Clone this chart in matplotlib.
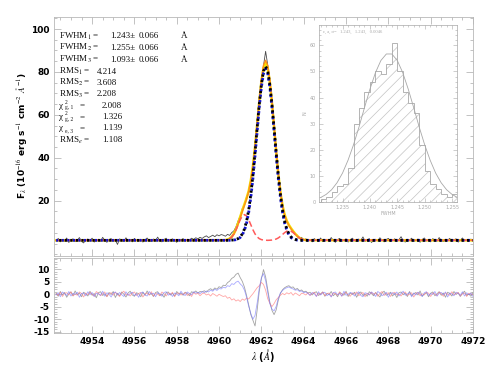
import matplotlib
matplotlib.use("Agg")
import matplotlib.pyplot as plt
import numpy as np
from matplotlib.ticker import MultipleLocator, FormatStrFormatter

# --- spectrum sampling (0.1 A steps) ---
WL_START = 4952.3
WL_END = 4972.0
WL_STEP = 0.1

FLUX_OBS = [
    1.2, 2.4, 0.8, 1.9, 1.1, 2.6, 0.5, 1.7, 2.2, 0.9, 1.5, 2.8, 1.0, 0.3, 1.8, 2.1, 1.3, 2.5, 0.7, 1.6,
    2.0, 1.1, 2.9, 1.4, 0.6, 1.9, 2.3, 1.0, 1.6, -0.4, 2.2, 1.5, 0.9, 2.7, 1.2, 1.8, 0.8, 2.4, 1.4, 1.1,
    2.0, 0.7, 1.7, 2.6, 1.3, 0.9, 2.1, 1.5, 3.0, 1.2, 0.8, 1.9, 2.5, 1.0, 1.6, 2.2, 1.4, 0.6, 2.0, 1.7,
    2.3, 1.1,
    2.0, 1.6, 2.5, 1.9, 2.7, 2.2, 2.9, 2.4, 3.1, 3.6, 2.8, 3.3, 3.9, 3.2, 4.1, 3.6, 4.2,
    3.9, 3.4, 4.3, 3.8, 5.1, 5.9, 7.8, 10.6, 12.9, 16.4, 18.1, 21.9, 24.0, 29.9, 35.2, 44.3, 55.9, 66.8,
    76.1, 83.0, 89.6, 83.2, 75.8, 66.1, 54.9, 42.2, 32.9, 24.6, 17.1, 13.9, 10.2, 8.9, 6.8, 6.1, 4.2,
    3.9, 2.4, 2.9, 1.6, 2.2, 1.3,
    1.9, 0.8, 2.3, 1.5, 1.1, 2.6, 0.9, 1.7, 2.0, 1.2, 2.8, 1.4, 0.6, 1.9, 2.4, 1.0, 1.6, 2.2, 0.7, 1.8,
    2.5, 1.3, 0.9, 2.1, 1.5, 3.1, 1.0, 1.7, 2.3, 0.5, 1.4, 2.0, 1.2, 2.7, 1.6, 0.8, 1.9, 2.4, 1.1, 1.5,
    2.2, 0.9, 1.8, 3.2, 1.3, 0.7, 2.0, 1.6, 2.5, 1.0, 1.4, 2.1, 0.6, 1.9, 2.6, 1.2, 1.7, 0.8, 2.3, 1.5,
    1.1, 2.8, 1.4, 0.9, 2.0, 1.6, 2.4, 1.0, 1.8, 2.2, 0.7, 1.5, 2.6, 1.3, 1.9, 1.1, 2.1, 1.4,
]

RES_BLACK = [
    0.4, -0.8, 1.1, -0.3, 0.7, -1.2, 0.2, 0.9, -0.6, 1.3,
    -0.2, 0.5, -1.0, 0.8, 0.1, -0.7, 1.2, -0.4, 0.3, -1.4,
    0.6, 1.0, -0.5, 0.2, -0.9, 0.7, -0.1, 1.1, -1.3, 0.4,
    -0.6, 0.9, 0.0, -1.1, 0.5, 1.2, -0.3, -0.8, 0.6, 0.2,
    -1.0, 0.8, -0.4, 1.3, -0.2, 0.3, -0.9, 0.7, 1.0, -0.5,
    0.1, -1.2, 0.6, 0.9, -0.3, 0.4, -0.7, 1.1, 0.0, 0.5,
    -0.4, 0.8, 0.3, -0.6, 1.0, 0.6, 1.3, 0.4, 1.1, 0.9,
    1.4, 0.8, 1.7, 2.2, 1.6, 2.5, 2.0, 3.0, 2.6, 3.6,
    3.4, 4.6, 5.2, 6.3, 6.8, 7.9, 8.4, 6.6, 5.1, 2.8,
    -0.5, -4.2, -8.1, -10.4, -12.6, -6.3, 1.2, 6.1, 9.8, 6.9,
    1.8, -3.2, -6.4, -8.1, -6.2, -2.3, 0.4, 1.8, 2.6, 3.1,
    3.4, 2.7, 2.9, 1.9, 2.3, 1.4, 1.7, 0.9, 1.2, 0.5,
    0.8, -0.3, 0.6, 1.0, -0.5, 0.2, 0.9, -0.8, 0.4, -0.2,
    1.1, -0.6, 0.3, -1.0, 0.7, 0.2, -0.4, 1.2, -0.9, 0.5,
    -0.1, 0.8, -1.2, 0.4, 0.9, -0.5, 0.1, -0.8, 1.0, 0.3,
    -0.6, 0.7, -0.2, -1.1, 0.5, 1.2, -0.4, 0.0, 0.8, -0.7,
    0.3, -1.3, 0.6, 0.9, -0.2, 0.4, -0.9, 1.1, -0.5, 0.2,
    0.7, -0.3, 1.3, -0.8, 0.1, 0.6, -1.0, 0.4, 0.9, -0.6,
    0.2, 1.0, -0.4, 0.5, -1.2, 0.8, 0.3, -0.7, 1.1, -0.1,
    0.6, -0.9, 0.4, 1.2, -0.5, 0.1, -0.8, 0.7,
]

RES_BLUE = [
    -0.3, 0.6, -1.0, 0.9, 0.2, -0.5, 1.1, -0.7, 0.4, -0.1,
    0.8, -1.2, 0.3, 0.5, -0.6, 1.0, -0.2, 0.7, -0.9, 0.4,
    0.1, -0.4, 1.2, -0.8, 0.6, 0.0, -1.1, 0.5, 0.9, -0.3,
    0.7, -0.2, -0.9, 1.0, -0.5, 0.3, 0.8, -0.6, 0.2, -1.2,
    0.5, 0.9, -0.3, -0.7, 1.1, 0.0, 0.4, -1.0, 0.6, 0.2,
    -0.8, 0.7, 1.0, -0.4, 0.3, -0.9, 0.5, 0.1, -0.6, 1.2,
    0.0, -0.5, 0.9, 0.3, -0.2, 1.0, 0.4, 0.8, 0.2, 1.1,
    0.6, 1.3, 0.9, 1.6, 1.2, 2.0, 1.5, 2.3, 2.1, 2.8,
    2.5, 3.4, 3.1, 4.2, 3.9, 4.8, 5.2, 4.1, 3.3, 1.6,
    -1.2, -4.8, -7.6, -9.9, -8.4, -3.5, 2.4, 6.6, 8.2, 5.4,
    0.6, -3.8, -5.9, -6.6, -4.8, -1.6, 0.5, 1.5, 2.2, 2.6,
    2.9, 2.4, 2.1, 1.6, 1.8, 1.1, 1.3, 0.6, 0.9, 0.3,
    -0.4, 0.7, 0.2, -0.9, 1.0, -0.3, 0.5, 0.8, -0.6, 0.1,
    -1.1, 0.6, 0.9, -0.2, 0.3, -0.8, 1.2, -0.4, 0.0, 0.7,
    0.4, -0.7, 0.2, 1.0, -0.5, -1.0, 0.6, 0.3, -0.3, 0.9,
    0.2, -0.9, 1.1, 0.5, -0.6, 0.0, 0.8, -1.2, 0.4, 0.6,
    -0.2, 0.9, -0.7, 0.3, 1.2, -0.4, 0.1, 0.7, -1.0, 0.5,
    -0.3, 0.8, 0.2, -0.9, 0.6, 1.0, -0.5, 0.3, -0.1, 1.1,
    -0.8, 0.4, 0.7, -0.2, 0.9, -1.1, 0.5, 0.1, -0.6, 0.8,
    0.3, -0.4, 1.0, -0.7, 0.6, -0.2, 0.4, -0.9,
]

RES_RED = [
    0.2, -0.5, 0.8, -0.9, 0.4, 0.6, -0.3, 1.0, -0.7, 0.1,
    -0.4, 0.9, 0.3, -1.1, 0.5, -0.2, 0.7, 0.0, -0.8, 1.1,
    0.4, -0.6, 0.2, 0.9, -1.0, 0.3, 0.6, -0.4, 0.8, -0.1,
    -0.9, 0.5, 1.2, -0.3, 0.1, -0.7, 0.4, 0.9, -0.5, 0.3,
    0.7, -1.1, 0.2, 0.5, -0.4, 1.0, -0.8, 0.3, 0.0, -0.6,
    0.9, 0.2, -0.7, 0.6, -0.1, 0.8, -1.0, 0.4, 0.5, -0.3,
    0.1, 0.7, -0.5, 0.3, -0.9, 0.6, 0.0, 0.4, -0.6, 0.2,
    0.5, -0.3, 0.1, -0.7, 0.3, -0.2, -0.8, 0.0, -0.5, -0.9,
    -0.6, -1.6, -1.2, -2.3, -1.8, -2.7, -2.2, -2.9, -1.9, -2.4,
    -1.5, -1.9, -0.8, 0.2, 1.4, 2.6, 3.4, 4.7, 3.9, 1.6,
    -1.8, -3.6, -4.9, -3.7, -2.2, -1.3, -0.4, 0.3, -0.2, 0.6,
    0.1, 0.7, -0.4, 0.5, 0.0, -0.6, 0.4, 0.2, -0.3, 0.6,
    -0.5, 0.3, 0.8, -0.8, 0.4, -0.1, 0.9, -0.6, 0.2, 0.5,
    -0.9, 0.6, 0.1, -0.4, 1.0, -0.7, 0.3, 0.7, -0.2, -0.8,
    0.5, 0.0, 0.9, -0.6, 0.2, 0.7, -1.0, 0.4, -0.3, 0.8,
    -0.1, 0.6, -0.8, 0.3, 1.1, -0.5, 0.2, 0.6, -0.9, 0.4,
    0.8, -0.2, 0.1, -0.7, 0.5, 0.9, -0.4, 0.0, 0.6, -1.1,
    0.3, 0.7, -0.6, 0.2, -0.3, 0.8, 0.4, -0.9, 0.5, 0.1,
    -0.5, 0.9, 0.2, -0.8, 0.6, 0.0, -0.4, 1.0, -0.2, 0.3,
    0.7, -0.6, 0.1, 0.5, -0.9, 0.4, 0.2, -0.3,
]

# --- fitted models, line window 4960.2-4964.2 (0.1 A steps), flat continuum outside ---
CONTINUUM = 1.5
MODEL_START = 4960.2
FIT_YELLOW = [
    1.55, 1.63, 1.84, 2.31, 3.18, 4.63, 6.75, 9.46, 12.5, 15.52, 18.35, 21.15, 24.51, 29.38,
    36.13, 45.09, 55.52, 66.19, 75.44, 81.83, 84.05, 81.7, 75.15, 65.53, 54.2, 42.71, 32.32,
    23.95, 17.63, 13.4, 10.61, 8.67, 7.15, 5.78, 4.55, 3.49, 2.68, 2.13, 1.8, 1.63, 1.55,
]
FIT_ORANGE = [
    1.55, 1.6, 1.8, 2.2, 3.0, 4.4, 6.4, 9.0, 12.0, 15.0, 17.9, 20.8, 24.3, 29.4, 36.4, 45.6,
    56.3, 67.2, 76.6, 83.1, 85.4, 83.0, 76.4, 66.6, 55.1, 43.4, 32.8, 24.2, 17.7, 13.3, 10.4,
    8.4, 6.9, 5.6, 4.4, 3.4, 2.6, 2.1, 1.8, 1.6, 1.55,
]
FIT_BLUE = [
    1.5, 1.5, 1.5, 1.52, 1.56, 1.64, 1.81, 2.16, 2.85, 4.09, 6.2, 9.56, 14.5, 21.5, 30.3, 40.9,
    52.3, 63.5, 72.9, 79.3, 81.5, 79.3, 72.9, 63.5, 52.3, 40.9, 30.3, 21.5, 14.5, 9.56, 6.2,
    4.09, 2.85, 2.16, 1.81, 1.64, 1.56, 1.52, 1.5, 1.5, 1.5,
]
FIT_BLACK = [
    1.5, 1.5, 1.5, 1.52, 1.6, 1.7, 1.9, 2.3, 3.1, 4.5, 6.8, 10.4, 15.6, 22.8, 31.8, 42.4,
    53.8, 64.8, 74.0, 80.4, 82.6, 80.4, 74.0, 64.8, 53.8, 42.4, 31.8, 22.8, 15.6, 10.4, 6.8,
    4.5, 3.1, 2.3, 1.9, 1.7, 1.6, 1.52, 1.5, 1.5, 1.5,
]
COMP_RED = [
    1.55, 1.63, 1.84, 2.29, 3.12, 4.49, 6.43, 8.78, 11.11, 12.85, 13.5, 12.85, 11.11, 8.78,
    6.43, 4.49, 3.12, 2.29, 1.84, 1.63, 1.55, 1.5, 1.55, 1.63, 1.8, 2.11, 2.62, 3.35, 4.23,
    5.1, 5.76, 6.0, 5.76, 5.1, 4.23, 3.35, 2.62, 2.11, 1.8, 1.63, 1.55,
]

FWHM_LABELS = [r"FWHM$_1$ =", r"FWHM$_2$ =", r"FWHM$_3$ ="]
FWHM_VALUES = ["1.243", "1.255", "1.093"]
FWHM_ERR = "0.066"
RMS_LABELS = [r"RMS$_1$ =", r"RMS$_2$ =", r"RMS$_3$ ="]
RMS_VALUES = ["4.214", "3.608", "2.208"]
CHI_SUPS = ["2", "2", ""]
CHI_SUBS = ["g, 1", "g, 2", "e, 3"]
CHI_VALUES = ["2.008", "1.326", "1.139"]
RMSE_LABEL = r"RMS$_e$ ="
RMSE_VALUE = "1.108"

# --- inset: FWHM distribution ---
BIN_EDGES = [
    1.231, 1.232, 1.233, 1.234, 1.235, 1.236, 1.237, 1.238, 1.239, 1.240, 1.241, 1.242, 1.243,
    1.244, 1.245, 1.246, 1.247, 1.248, 1.249, 1.250, 1.251, 1.252, 1.253, 1.254, 1.255, 1.256,
]
HIST_COUNTS = [1, 2, 4, 6, 7, 13, 30, 36, 42, 46, 50, 49, 53, 61, 50, 42, 38, 34, 22, 12, 7, 5, 3, 2, 3]
CURVE_X = BIN_EDGES
CURVE_N = [
    1.7, 2.9, 4.7, 7.4, 11.1, 16.0, 21.9, 28.7, 36.1, 43.2, 49.5, 54.2, 56.7, 56.7, 54.2, 49.5,
    43.2, 36.1, 28.7, 21.9, 16.0, 11.1, 7.4, 4.7, 2.9, 1.7,
]
INSET_NOTE = "c, a, \u03c3=   1.243,   1.243,   0.0046"

plt.rcParams["axes.unicode_minus"] = False
plt.rcParams["mathtext.fontset"] = "stix"
plt.rcParams["hatch.linewidth"] = 0.5

FRAME = "#b8b8b8"
TXT = "#111111"
W, H = 490, 368

fig = plt.figure(figsize=(4.9, 3.68), dpi=100)


def px_axes(l, t, r, b):
    return [l / W, 1 - b / H, (r - l) / W, (b - t) / H]


ax = fig.add_axes(px_axes(54, 17, 473, 256))
axr = fig.add_axes(px_axes(54, 258, 473, 333))
axi = fig.add_axes(px_axes(319, 25, 457, 202))

wl = WL_START + WL_STEP * np.arange(len(FLUX_OBS))
wl_mod = np.concatenate([[WL_START], MODEL_START + WL_STEP * np.arange(len(FIT_YELLOW)), [WL_END]])


def with_cont(vals):
    return np.concatenate([[CONTINUUM], vals, [CONTINUUM]])


# --- main panel ---
ax.plot(wl, FLUX_OBS, color="#4a4a4a", lw=0.6, zorder=2)
ax.plot(wl_mod, with_cont(FIT_YELLOW), color="#f2e600", lw=1.8, zorder=3)
ax.plot(wl_mod, with_cont(FIT_ORANGE), color="#ff8c1a", lw=1.0, zorder=3)
ax.plot(wl_mod, with_cont(COMP_RED), color="#ff5a5a", lw=1.1, ls=(0, (4, 2)), zorder=4)
ax.plot(wl_mod, with_cont(FIT_BLUE), color="#1010d0", lw=2.0, ls=(0, (0.8, 1.2)), zorder=5)
ax.plot(wl_mod, with_cont(FIT_BLACK), color="black", lw=2.0, ls=(0.9, (0.8, 1.2)), zorder=6)

ax.set_xlim(4952.2, WL_END)
ax.set_ylim(-5.8, 105.6)
ax.yaxis.set_minor_locator(MultipleLocator(5))
ax.set_yticks([20, 40, 60, 80, 100])


def ax_frac(px, py):
    return (px - 54) / 419, 1 - (py - 17) / 239


def put(px, py, s, size=6.5):
    ax.text(*ax_frac(px, py), s, transform=ax.transAxes, family="Liberation Serif",
            va="center", ha="left", color=TXT, fontsize=size)


# fit statistics block, one row every ~11.5 px
for i, (lab, val) in enumerate(zip(FWHM_LABELS, FWHM_VALUES)):
    y_px = 36 + i * 11.8
    put(59, y_px, lab)
    put(110, y_px, val + "\u00b1")
    put(139, y_px, FWHM_ERR)
    put(181, y_px, "\u00c5")
for i, (lab, val) in enumerate(zip(RMS_LABELS, RMS_VALUES)):
    y_px = 71.5 + i * 11.4
    put(59, y_px, lab)
    put(97, y_px, val)
for i, (sup, sub, val) in enumerate(zip(CHI_SUPS, CHI_SUBS, CHI_VALUES)):
    y_px = 105.5 + i * 11.4
    put(59, y_px, "\u03c7")
    if sup:
        put(64.5, y_px - 3.2, sup, size=4)
    put(64.5, y_px + 2.3, sub, size=4)
    put(80, y_px, "=")
    put(102, y_px, val)
put(59, 140, RMSE_LABEL)
put(102, 140, RMSE_VALUE)

# --- residuals ---
axr.plot(wl, RES_BLACK, color="#8c8c8c", lw=0.6, alpha=0.8)
axr.plot(wl, RES_RED, color="#ff8080", lw=0.6, alpha=0.7)
axr.plot(wl, RES_BLUE, color="#7070ff", lw=0.6, alpha=0.6)
axr.set_xlim(4952.2, WL_END)
axr.set_ylim(-15.4, 14.4)
axr.set_yticks([10, 5, 0, -5, -10, -15])
axr.yaxis.set_minor_locator(MultipleLocator(1))

for a in (ax, axr):
    a.xaxis.set_major_locator(MultipleLocator(2))
    a.xaxis.set_minor_locator(MultipleLocator(0.5))
    a.tick_params(which="both", direction="in", top=True, right=True, color=FRAME, width=0.6,
                  pad=3)
    a.tick_params(which="major", length=5)
    a.tick_params(which="minor", length=2.5)
    for lbl in a.get_xticklabels() + a.get_yticklabels():
        lbl.set_fontweight("bold")
        lbl.set_fontsize(6.5)
    for s in a.spines.values():
        s.set_color(FRAME)
        s.set_linewidth(0.6)
ax.tick_params(labelbottom=False)

fig.text(22 / W, 1 - 136 / H,
         r"F$_\lambda$ (10$^{-16}$ erg s$^{-1}$ cm$^{-2}$ $\AA^{-1}$)",
         rotation=90, ha="center", va="center", fontsize=6.5, fontweight="bold")
fig.text(263 / W, 1 - 355 / H, r"$\lambda$ ($\AA$)", ha="center", va="center",
         fontsize=7, fontweight="bold")

# --- inset ---
IN_C = "#a8a8a8"
axi.stairs(HIST_COUNTS, BIN_EDGES, fill=True, facecolor="none", edgecolor="#c4c4c4",
           hatch="///", lw=0)
axi.stairs(HIST_COUNTS, BIN_EDGES, color=IN_C, lw=0.6)
axi.plot(CURVE_X, CURVE_N, color=IN_C, lw=0.6)
axi.set_xlim(1.2307, 1.2559)
axi.set_ylim(0, 67.8)
axi.xaxis.set_major_locator(MultipleLocator(0.005))
axi.xaxis.set_minor_locator(MultipleLocator(0.001))
axi.xaxis.set_major_formatter(FormatStrFormatter("%.3f"))
axi.yaxis.set_major_locator(MultipleLocator(10))
axi.yaxis.set_minor_locator(MultipleLocator(2))
axi.tick_params(which="both", direction="in", top=True, right=True, color=IN_C,
                labelcolor=IN_C, labelsize=3.5, width=0.4, pad=2)
axi.tick_params(which="major", length=3)
axi.tick_params(which="minor", length=1.5)
for s in axi.spines.values():
    s.set_color(IN_C)
    s.set_linewidth(0.5)
axi.set_xlabel("FWHM", fontsize=3.5, color=IN_C, labelpad=1)
axi.set_ylabel("N", fontsize=3.5, color=IN_C, labelpad=2)
axi.text(0.03, 0.975, INSET_NOTE, transform=axi.transAxes, fontsize=3.3, color=IN_C,
         ha="left", va="top", family="Liberation Serif")

fig.savefig("out.png", dpi=100)
